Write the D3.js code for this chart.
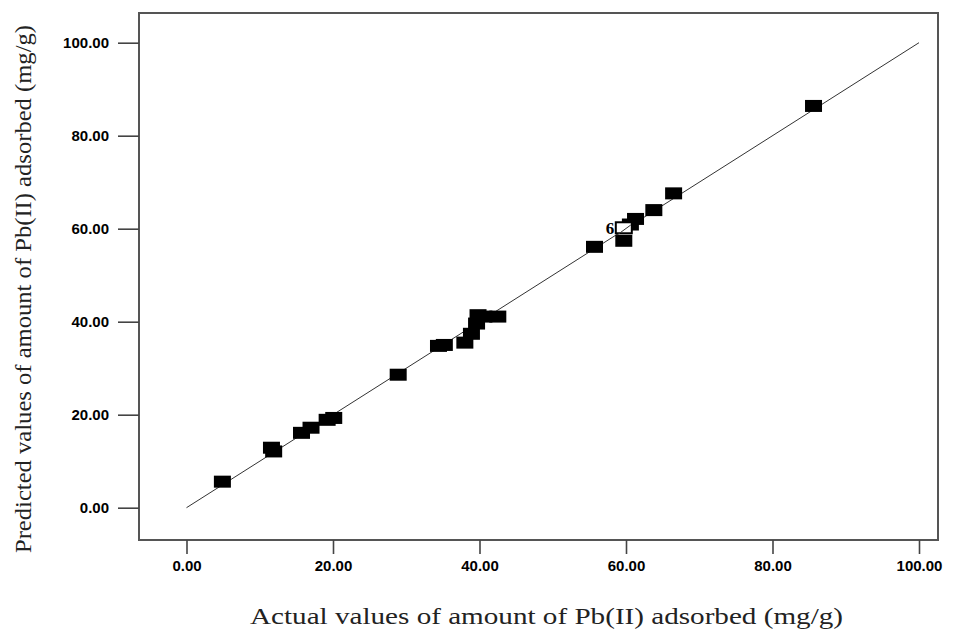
<!DOCTYPE html>
<html>
<head>
<meta charset="utf-8">
<script src="https://cdn.jsdelivr.net/npm/d3@7"></script>
<style>
  html, body { margin: 0; padding: 0; background: #fff; }
  svg { display: block; }
</style>
</head>
<body>
<svg id="chart" width="954" height="630"></svg>
<script>
// ---- data ----
const actualValues    = [4.9, 11.6, 11.9, 15.7, 17.0, 19.2, 20.1, 28.9, 34.4, 35.2, 38.0, 38.9, 39.6, 39.8, 40.6, 42.5, 55.7, 59.7, 60.6, 61.3, 63.8, 66.5, 85.6];
const predictedValues = [5.6, 12.9, 12.1, 16.1, 17.2, 18.9, 19.3, 28.6, 34.8, 35.0, 35.5, 37.4, 39.6, 41.4, 41.1, 41.1, 56.1, 57.4, 60.9, 62.1, 64.0, 67.6, 86.4];
const centerPoint = { actual: 59.7, predicted: 60.2, count: 6 };
const tickValues = [0, 20, 40, 60, 80, 100];
const xTitle = "Actual values of amount of Pb(II) adsorbed (mg/g)";
const yTitle = "Predicted values of amount of Pb(II) adsorbed (mg/g)";

const svg = d3.select("#chart");
const frame = { left: 139, top: 13, right: 938, bottom: 540 };

const x = d3.scaleLinear().domain([0, 100]).range([186.5, 919]);
const y = d3.scaleLinear().domain([0, 100]).range([507.7, 42.7]);

// frame
svg.append("rect")
  .attr("x", frame.left).attr("y", frame.top)
  .attr("width", frame.right - frame.left).attr("height", frame.bottom - frame.top)
  .attr("fill", "#fff").attr("stroke", "#555").attr("stroke-width", 2);

// axes
const xAxis = d3.axisBottom(x).tickValues(tickValues).tickFormat(d3.format(".2f"))
  .tickSize(14).tickPadding(6);
const gx = svg.append("g").attr("transform", `translate(0,${frame.bottom})`).call(xAxis);
gx.select(".domain").remove();

const yAxis = d3.axisLeft(y).tickValues(tickValues).tickFormat(d3.format(".2f"))
  .tickSize(21).tickPadding(9);
const gy = svg.append("g").attr("transform", `translate(${frame.left},0)`).call(yAxis);
gy.select(".domain").remove();

[gx, gy].forEach(g => {
  g.selectAll(".tick line").attr("stroke", "#444").attr("stroke-width", 1.6);
  g.selectAll(".tick text")
    .attr("fill", "#000")
    .style("font-family", "'Liberation Sans', Arial, sans-serif")
    .style("font-weight", "bold")
    .style("font-size", "15px");
});

// 1:1 line
svg.append("line")
  .attr("x1", x(0)).attr("y1", y(0))
  .attr("x2", x(100)).attr("y2", y(100))
  .attr("stroke", "#333").attr("stroke-width", 1);

// points
const mw = 17, mh = 12;
const pts = actualValues.map((a, i) => ({ a, p: predictedValues[i] }));
svg.append("g").selectAll("rect").data(pts).join("rect")
  .attr("x", d => x(d.a) - mw / 2)
  .attr("y", d => y(d.p) - mh / 2)
  .attr("width", mw).attr("height", mh)
  .attr("fill", "#000");

// design centre point (open square with replicate count)
const cg = svg.append("g");
cg.append("rect")
  .attr("x", x(centerPoint.actual) - mw / 2 + 0.5)
  .attr("y", y(centerPoint.predicted) - 5.5)
  .attr("width", mw - 1).attr("height", 11)
  .attr("fill", "#fff").attr("stroke", "#000").attr("stroke-width", 2);
cg.append("line")
  .attr("x1", x(centerPoint.actual) - mw / 2 + 1.5).attr("y1", y(centerPoint.actual - 1.1))
  .attr("x2", x(centerPoint.actual) + mw / 2 - 1.5).attr("y2", y(centerPoint.actual + 1.1))
  .attr("stroke", "#333").attr("stroke-width", 1);
cg.append("text")
  .attr("x", x(centerPoint.actual) - mw / 2 - 1)
  .attr("y", y(centerPoint.predicted) + 6)
  .attr("text-anchor", "end")
  .style("font-family", "'Liberation Serif', 'Times New Roman', serif")
  .style("font-weight", "bold")
  .style("font-size", "17px")
  .text(centerPoint.count);

// titles
svg.append("text")
  .attr("x", 250).attr("y", 624)
  .attr("textLength", 593).attr("lengthAdjust", "spacingAndGlyphs")
  .style("font-family", "'Liberation Serif', 'Times New Roman', serif")
  .style("font-size", "24px")
  .attr("fill", "#222")
  .text(xTitle);

svg.append("text")
  .attr("transform", "translate(31,553) rotate(-90)")
  .attr("x", 0).attr("y", 0)
  .attr("textLength", 528).attr("lengthAdjust", "spacingAndGlyphs")
  .style("font-family", "'Liberation Serif', 'Times New Roman', serif")
  .style("font-size", "23px")
  .attr("fill", "#222")
  .text(yTitle);
</script>
</body>
</html>
